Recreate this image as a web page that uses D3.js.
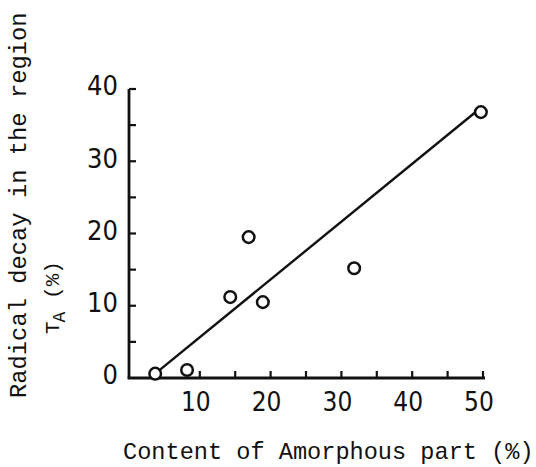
<!DOCTYPE html>
<html>
<head>
<meta charset="utf-8">
<script src="https://cdn.jsdelivr.net/npm/d3@7"></script>
<style>
  body { margin: 0; background: #fff; }
  svg { display: block; }
</style>
</head>
<body>
<div id="chart"></div>
<script>
// measured points: amorphous content (%) vs radical decay T_A (%)
const amorphous = [3.7, 8.2, 14.3, 16.9, 18.9, 31.8, 49.7]
const decay = [0.6, 1.1, 11.2, 19.5, 10.5, 15.2, 36.8]
// straight fit line drawn through the points
const fitLine = [[3.7, 0.6], [49.7, 37.4]]
const xMajor = [10, 20, 30, 40, 50]
const xMinor = [15, 25, 35, 45]
const yMajor = [0, 10, 20, 30, 40]
const yMinor = [5, 15, 25, 35]

const width = 536
const height = 467
const numFont = '"Liberation Sans Narrow", "DejaVu Sans Condensed", "Liberation Sans", sans-serif'
const monoFont = '"Liberation Mono", "DejaVu Sans Mono", monospace'

const svg = d3.select('#chart')
  .append('svg')
  .attr('width', width)
  .attr('height', height)

const x = d3.scaleLinear().domain([0, 50]).range([129, 483])
const y = d3.scaleLinear().domain([0, 40]).range([378, 89])

const ink = '#111'

// axes (drawn by hand, ticks point inward)
svg.append('line')
  .attr('x1', x(0)).attr('x2', x(0))
  .attr('y1', y(40)).attr('y2', y(0))
  .attr('stroke', ink).attr('stroke-width', 2.8)
svg.append('line')
  .attr('x1', x(0) - 1.4).attr('x2', x(50) + 2)
  .attr('y1', y(0)).attr('y2', y(0))
  .attr('stroke', ink).attr('stroke-width', 2.8)

svg.append('g')
  .selectAll('line')
  .data(xMajor.concat(xMinor))
  .enter().append('line')
    .attr('x1', d => x(d)).attr('x2', d => x(d))
    .attr('y1', y(0)).attr('y2', y(0) - 7)
    .attr('stroke', ink).attr('stroke-width', 2.2)

svg.append('g')
  .selectAll('line')
  .data(yMajor.slice(1).concat(yMinor))
  .enter().append('line')
    .attr('x1', x(0)).attr('x2', x(0) + 7)
    .attr('y1', d => y(d)).attr('y2', d => y(d))
    .attr('stroke', ink).attr('stroke-width', 2.2)

// tick labels
svg.append('g')
  .selectAll('text')
  .data(xMajor)
  .enter().append('text')
    .attr('x', d => x(d) - 4)
    .attr('y', y(0) + 33)
    .attr('text-anchor', 'middle')
    .style('font-family', numFont)
    .style('font-size', '26px')
    .attr('fill', ink)
    .text(d => d)

svg.append('g')
  .selectAll('text')
  .data(yMajor)
  .enter().append('text')
    .attr('x', x(0) - 11)
    .attr('y', d => y(d) - 3)
    .attr('dy', '0.35em')
    .attr('text-anchor', 'end')
    .style('font-family', numFont)
    .style('font-size', '27px')
    .attr('fill', ink)
    .text(d => d)

// fit line
svg.append('path')
  .datum(fitLine)
  .attr('d', d3.line().x(d => x(d[0])).y(d => y(d[1])))
  .attr('fill', 'none')
  .attr('stroke', ink)
  .attr('stroke-width', 2.4)

// data points
svg.append('g')
  .selectAll('circle')
  .data(amorphous.map((a, i) => [a, decay[i]]))
  .enter().append('circle')
    .attr('cx', d => x(d[0]))
    .attr('cy', d => y(d[1]))
    .attr('r', 5.8)
    .attr('fill', '#fff')
    .attr('stroke', ink)
    .attr('stroke-width', 2.5)

// axis titles
svg.append('text')
  .attr('x', 123)
  .attr('y', 459)
  .style('font-family', monoFont)
  .style('font-size', '23.6px')
  .attr('fill', ink)
  .text('Content of Amorphous part (%)')

svg.append('text')
  .attr('transform', 'translate(26,398) rotate(-90)')
  .style('font-family', monoFont)
  .style('font-size', '23.8px')
  .attr('fill', ink)
  .text('Radical decay in the region')

const t2 = svg.append('text')
  .attr('transform', 'translate(59,334) rotate(-90)')
  .style('font-family', monoFont)
  .style('font-size', '21px')
  .attr('fill', ink)
t2.append('tspan').text('T')
t2.append('tspan').attr('dy', 6).attr('dx', -1).style('font-size', '18px').text('A')
t2.append('tspan').attr('dy', -6).text(' (%)')
</script>
</body>
</html>
